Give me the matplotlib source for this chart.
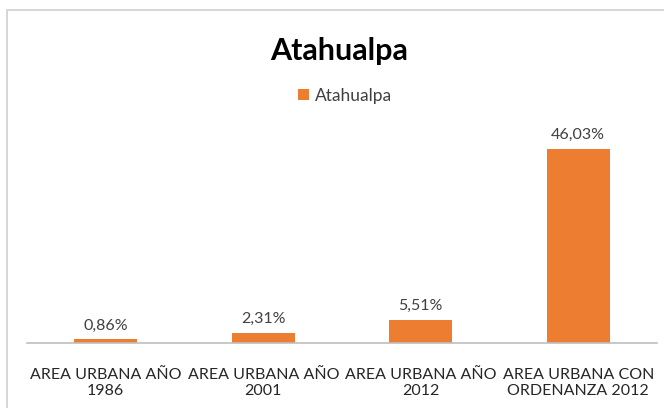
import numpy as np
import matplotlib.pyplot as plt
from matplotlib.patches import Rectangle

categories = ['AREA URBANA AÑO\n1986', 'AREA URBANA AÑO\n2001',
              'AREA URBANA AÑO\n2012', 'AREA URBANA CON\nORDENANZA 2012']
values = [0.86, 2.31, 5.51, 46.03]
series_name = 'Atahualpa'
title = 'Atahualpa'

orange = '#ED7D31'
txt = '#404040'
plt.rcParams['font.family'] = ['Lato', 'DejaVu Sans']

W, H = 664, 408
fig = plt.figure(figsize=(W/100, H/100), dpi=100)
# chart border (right and bottom edges fall outside the image)
fig.patches.append(Rectangle((7/W, -0.1), 1, 1.1 - 10/H, transform=fig.transFigure,
                             fill=False, edgecolor='#d0d0d0', linewidth=1.2))

ax = fig.add_axes([27/W, (H-343)/H, 630/W, 228/H])
x = np.arange(len(values))
bars = ax.bar(x, values, width=0.4, color=orange, label=series_name, zorder=2)
ax.set_xlim(-0.5, len(values) - 0.5)
ax.set_ylim(0, 228/4.21)

for rect, v in zip(bars, values):
    ax.annotate(f'{v:.2f}'.replace('.', ',') + '%',
                (rect.get_x() + rect.get_width()/2, v),
                xytext=(0, 5), textcoords='offset points',
                ha='center', va='bottom', fontsize=11.5, color=txt)

ax.set_xticks(x)
ax.set_xticklabels(categories, fontsize=11.5, color='#262626', linespacing=1.2)
ax.tick_params(axis='x', length=0, pad=18)
ax.set_yticks([])
for s in ['left', 'right', 'top']:
    ax.spines[s].set_visible(False)
ax.spines['bottom'].set_color('#bfbfbf')
ax.spines['bottom'].set_linewidth(1.2)

fig.text(339/W, 1 - 51/H, title, ha='center', va='center',
         fontsize=22, fontweight='bold', color='black')
fig.legend(handles=[bars], labels=[series_name], loc='center',
           bbox_to_anchor=(345/W, 1 - 96/H), frameon=False, fontsize=12.5,
           handlelength=0.6, handleheight=0.6, handletextpad=0.35,
           labelcolor=txt)

fig.savefig('out.png', dpi=100)
